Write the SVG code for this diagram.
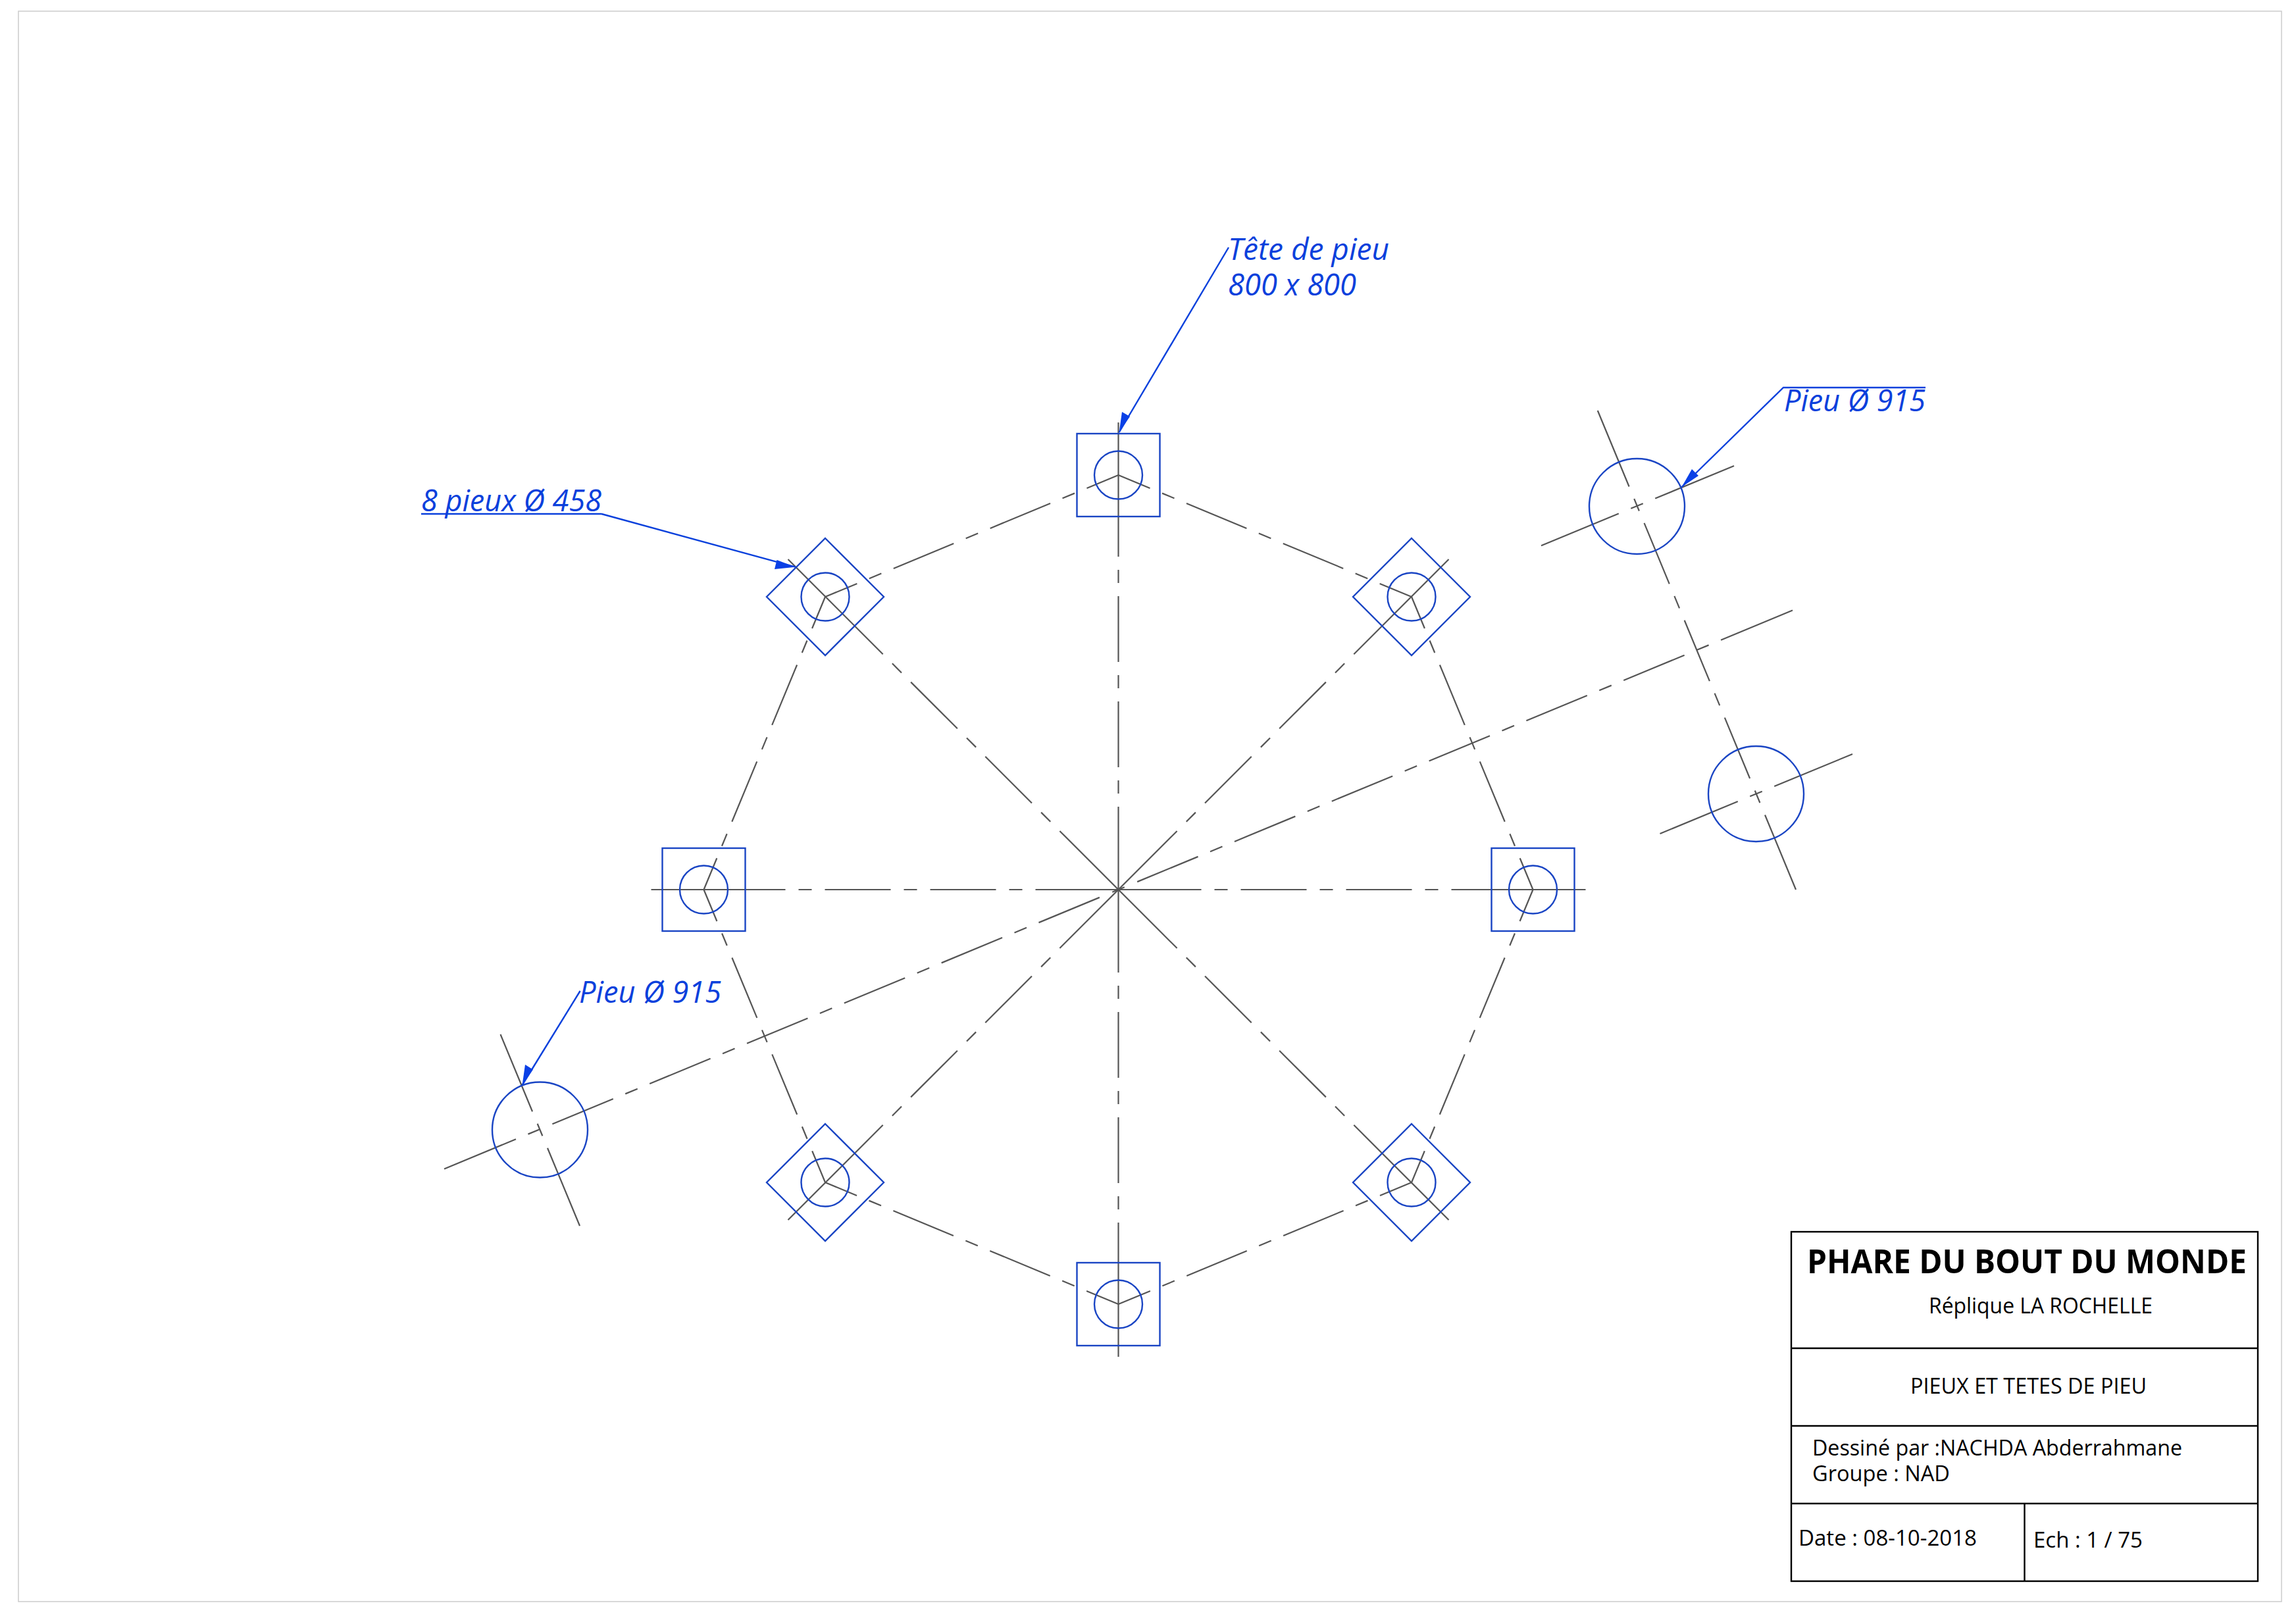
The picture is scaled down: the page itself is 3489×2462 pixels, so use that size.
<svg xmlns="http://www.w3.org/2000/svg" width="3489" height="2462" viewBox="0 0 3489 2462">
<style>
.c{fill:none;stroke:#555;stroke-width:2.2}
.h{stroke-dasharray:126 20 20 20 100 20 20 20 100 20 20 20 300}
.p{stroke-dasharray:99 20 20 20;stroke-dashoffset:47}
.m{stroke-dasharray:10 21 100 20 20 20 100 20 20 20 100 20 20 20 100 20 20 20 100 20 20 20 100 20 20 20 130}
.x{stroke-dasharray:10 20 140}
.b{fill:none;stroke:#1a45c4;stroke-width:2.4}
.l{fill:none;stroke:#0a40dc;stroke-width:2.4}
.a{fill:#0a40e6;stroke:none}
.t{font-family:"Open Sans",Lato,sans-serif;font-style:italic;font-size:46px;fill:#0a40dc}
.k{font-family:"Open Sans",Lato,sans-serif;font-size:33px;fill:#000}
.ttl{font-size:50px;font-weight:700}
.tb{fill:none;stroke:#000;stroke-width:2.4}
</style>
<defs>
<circle id="pile" r="36.5" class="b"/>
<rect id="sq" x="-63" y="-63" width="126" height="126" class="b"/>
<polygon id="dm" points="0,-89 89,0 0,89 -89,0" class="b"/>
<circle id="far" r="72.5" class="b"/>
</defs>
<rect x="28" y="17" width="3439" height="2417" fill="none" stroke="#ccc" stroke-width="1.5"/>
<g id="connectors">
<g id="axes">
<path class="c h" d="M1699.5 1352V642"/><path class="c h" d="M1699.5 1352V2062"/>
<path class="c h" d="M1699.5 1352H989.5"/><path class="c h" d="M1699.5 1352H2409.5"/>
<path class="c h" d="M1699.5 1352L1197.5 850"/><path class="c h" d="M1699.5 1352L2201.5 850"/>
<path class="c h" d="M1699.5 1352L1197.5 1854"/><path class="c h" d="M1699.5 1352L2201.5 1854"/>
</g>
<g id="polygon">
<path class="c p" d="M1699.5 722L1254 907"/><path class="c p" d="M1699.5 722L2145 907"/>
<path class="c p" d="M1254 907L1069.5 1352"/><path class="c p" d="M2145 907L2329.5 1352"/>
<path class="c p" d="M1069.5 1352L1254 1797"/><path class="c p" d="M2329.5 1352L2145 1797"/>
<path class="c p" d="M1254 1797L1699.5 1982"/><path class="c p" d="M2145 1797L1699.5 1982"/>
</g>
<g id="tilted">
<path class="c m" d="M1699.5 1352L675 1776.4"/><path class="c m" d="M1699.5 1352L2724 927.6"/>
<path class="c" stroke-dasharray="125 20 20 20 100 20 20 20 100 20 20 20 100 20 20 20 125" d="M2427.8 624L2729 1352"/>
<path class="c x" d="M820.5 1717L760.5 1572"/><path class="c x" d="M820.5 1717L881 1863"/>
<path class="c x" d="M2487.5 769L2342 829.3"/><path class="c x" d="M2487.5 769L2635 708"/>
<path class="c x" d="M2668.5 1206.5L2522.5 1267"/><path class="c x" d="M2668.5 1206.5L2815 1146"/>
</g>
<g id="leaders">
<path class="l" d="M1867 376L1700.6 657"/>
<polygon class="a" points="1700.6,657 1705,626 1717,633"/>
<path class="l" d="M914 781H640M914 781L1208.6 861.7"/>
<polygon class="a" points="1208.6,861.7 1177,865 1180.5,851"/>
<path class="l" d="M2926 589H2710L2555.6 740"/>
<polygon class="a" points="2555.6,740 2571,713 2581,723"/>
<path class="l" d="M881.6 1506L793.6 1649"/>
<polygon class="a" points="793.6,1649 798,1618 810,1625.5"/>
</g>
</g>
<g id="n1"><use href="#sq" x="1699.5" y="722"/><use href="#pile" x="1699.5" y="722"/></g>
<g id="n2"><use href="#dm" x="2145" y="907"/><use href="#pile" x="2145" y="907"/></g>
<g id="n3"><use href="#sq" x="2329.5" y="1352"/><use href="#pile" x="2329.5" y="1352"/></g>
<g id="n4"><use href="#dm" x="2145" y="1797"/><use href="#pile" x="2145" y="1797"/></g>
<g id="n5"><use href="#sq" x="1699.5" y="1982"/><use href="#pile" x="1699.5" y="1982"/></g>
<g id="n6"><use href="#dm" x="1254" y="1797"/><use href="#pile" x="1254" y="1797"/></g>
<g id="n7"><use href="#sq" x="1069.5" y="1352"/><use href="#pile" x="1069.5" y="1352"/></g>
<g id="n8"><use href="#dm" x="1254" y="907"/><use href="#pile" x="1254" y="907"/></g>
<g id="far1"><use href="#far" x="820.5" y="1717"/></g>
<g id="far2"><use href="#far" x="2487.5" y="769.5"/></g>
<g id="far3"><use href="#far" x="2668.5" y="1206.5"/></g>
<g id="labels">
<text class="t" x="1866" y="395" textLength="245" lengthAdjust="spacingAndGlyphs">Tête de pieu</text>
<text class="t" x="1866" y="449" textLength="195" lengthAdjust="spacingAndGlyphs">800 x 800</text>
<text class="t" x="640" y="777" textLength="274" lengthAdjust="spacingAndGlyphs">8 pieux Ø 458</text>
<text class="t" x="2711" y="625" textLength="215" lengthAdjust="spacingAndGlyphs">Pieu Ø 915</text>
<text class="t" x="880" y="1524" textLength="216" lengthAdjust="spacingAndGlyphs">Pieu Ø 915</text>
</g>
<g id="title-block">
<rect class="tb" x="2722" y="1872" width="709" height="531"/>
<path class="tb" d="M2722 2049H3431M2722 2167H3431M2722 2285H3431M3076.5 2285V2403"/>
<text class="k ttl" x="2746" y="1935" textLength="668" lengthAdjust="spacingAndGlyphs">PHARE DU BOUT DU MONDE</text>
<text class="k" x="2931" y="1996" textLength="340" lengthAdjust="spacingAndGlyphs">Réplique LA ROCHELLE</text>
<text class="k" x="2903" y="2118" textLength="359" lengthAdjust="spacingAndGlyphs">PIEUX ET TETES DE PIEU</text>
<text class="k" x="2754" y="2212" textLength="562" lengthAdjust="spacingAndGlyphs">Dessiné par :NACHDA Abderrahmane</text>
<text class="k" x="2754" y="2251" textLength="209" lengthAdjust="spacingAndGlyphs">Groupe : NAD</text>
<text class="k" x="2733" y="2349" textLength="271" lengthAdjust="spacingAndGlyphs">Date : 08-10-2018</text>
<text class="k" x="3090" y="2352" textLength="166" lengthAdjust="spacingAndGlyphs">Ech : 1 / 75</text>
</g>
</svg>
